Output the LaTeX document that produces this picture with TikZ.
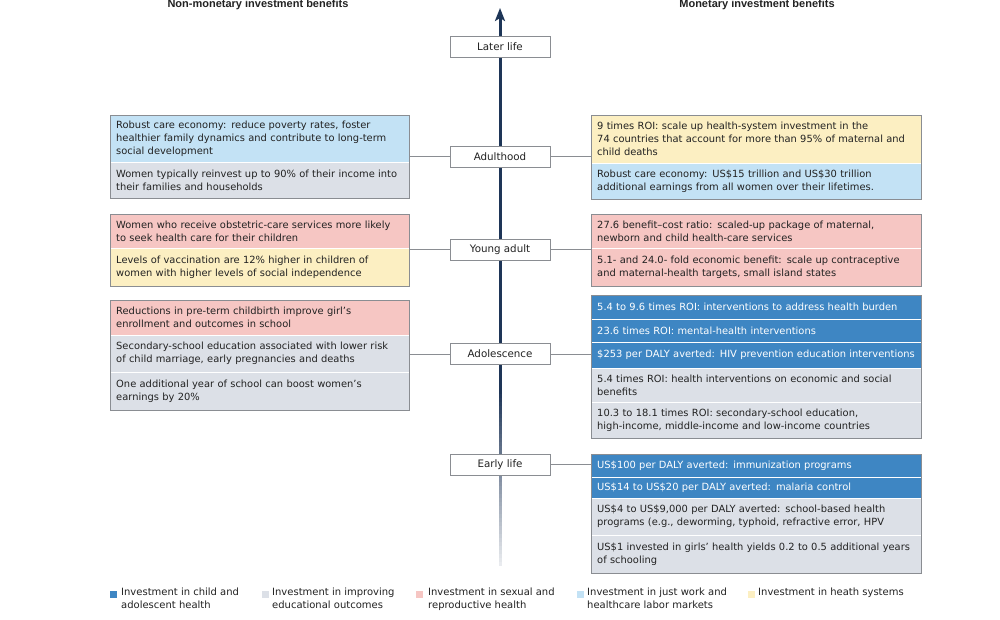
\documentclass[tikz,border=0pt]{standalone}
\usepackage{fontspec}
\setmainfont{DejaVu Sans}
\newfontfamily\headfont{Liberation Sans}
\usetikzlibrary{arrows.meta}
\definecolor{navy}{HTML}{1E3557}
\definecolor{cblue}{HTML}{3E86C3}
\definecolor{cgray}{HTML}{DCE0E7}
\definecolor{cpink}{HTML}{F6C6C3}
\definecolor{cyel}{HTML}{FCEFC2}
\definecolor{clblue}{HTML}{C3E2F5}
\definecolor{bord}{HTML}{8A8D92}
\definecolor{txt}{HTML}{222222}
\tikzset{
  sect/.style={rectangle, anchor=north west, inner xsep=6pt, inner ysep=0pt, align=left,
    font=\fontsize{9.9}{13}\selectfont, text=txt},
  stagebox/.style={rectangle, draw=bord, fill=white, line width=0.7pt, minimum width=100pt,
    minimum height=21pt, font=\fontsize{10.3}{12}\selectfont, text=txt, inner sep=0pt},
  conn/.style={draw=bord, line width=0.7pt},
  divider/.style={draw=white, line width=1.6pt},
  frame/.style={draw=bord, line width=0.7pt},
  header/.style={font=\headfont\bfseries\fontsize{11}{12}\selectfont, text=txt},
  keybox/.style={rectangle, minimum size=7pt, inner sep=0pt},
  keytext/.style={anchor=north west, align=left, inner sep=0pt, font=\fontsize{10}{13}\selectfont, text=txt},
  bl/.style={fill=cblue, text=white},
  gr/.style={fill=cgray},
  pk/.style={fill=cpink},
  ye/.style={fill=cyel},
  lb/.style={fill=clblue}
}
% name, x, ytop, width, height, textwidth, style, text
\newcommand\sct[8]{\node[sect, #7, minimum width=#4pt, minimum height=#5pt, text width=#6pt] (#1) at (#2,#3) {#8};}
\begin{document}
\begin{tikzpicture}[x=1pt,y=-1pt]
\useasboundingbox (0,0) rectangle (1000,619);
\fill[white] (0,0) rectangle (1000,619);

% headers
\node[header] (hl) at (258,5) {Non-monetary investment benefits};
\node[header] (hr) at (757,5) {Monetary investment benefits};

% timeline arrow
\coordinate (atop) at (500,8);
\coordinate (amid) at (500,392);
\foreach \i in {0,...,43} {
  \pgfmathsetmacro\ya{390+\i*4}
  \pgfmathsetmacro\yb{\ya+4.4}
  \pgfmathsetmacro\pc{100-\i*2.1}
  \fill[navy!\pc!white] (498.5,\ya) rectangle (501.5,\yb);
}
\draw[navy, line width=3pt, -{Stealth[length=13pt,width=10pt,inset=3pt]}] (amid) -- (atop);

% stages
\node[stagebox] (later) at (500,46.5) {Later life};
\node[stagebox] (adult) at (500,156.5) {Adulthood};
\node[stagebox] (young) at (500,249.5) {Young adult};
\node[stagebox] (adol) at (500,354) {Adolescence};
\node[stagebox] (early) at (500,464.5) {Early life};

% ---- left panels ----
\sct{la1}{110}{115}{299}{47}{287}{lb}{Robust care economy: reduce poverty rates, foster\\healthier family dynamics and contribute to long-term\\social development}
\sct{la2}{110}{162}{299}{36}{287}{gr}{Women typically reinvest up to 90\% of their income into\\their families and households}
\draw[divider] (la1.south west) -- (la1.south east);
\draw[frame] (la1.north west) rectangle (la2.south east);

\sct{ly1}{110}{214}{299}{34}{287}{pk}{Women who receive obstetric-care services more likely\\to seek health care for their children}
\sct{ly2}{110}{248}{299}{38}{287}{ye}{Levels of vaccination are 12\% higher in children of\\women with higher levels of social independence}
\draw[divider] (ly1.south west) -- (ly1.south east);
\draw[frame] (ly1.north west) rectangle (ly2.south east);

\sct{lo1}{110}{300}{299}{35}{287}{pk}{Reductions in pre-term childbirth improve girl’s\\enrollment and outcomes in school}
\sct{lo2}{110}{335}{299}{37}{287}{gr}{Secondary-school education associated with lower risk\\of child marriage, early pregnancies and deaths}
\sct{lo3}{110}{372}{299}{38}{287}{gr}{One additional year of school can boost women’s\\earnings by 20\%}
\draw[divider] (lo1.south west) -- (lo1.south east);
\draw[divider] (lo2.south west) -- (lo2.south east);
\draw[frame] (lo1.north west) rectangle (lo3.south east);

% ---- right panels ----
\sct{ra1}{591}{115}{330}{48}{318}{ye}{9 times ROI: scale up health-system investment in the\\74 countries that account for more than 95\% of maternal and\\child deaths}
\sct{ra2}{591}{163}{330}{36}{318}{lb}{Robust care economy: US\$15 trillion and US\$30 trillion\\additional earnings from all women over their lifetimes.}
\draw[divider] (ra1.south west) -- (ra1.south east);
\draw[frame] (ra1.north west) rectangle (ra2.south east);

\sct{ry1}{591}{214}{330}{34}{318}{pk}{27.6 benefit–cost ratio: scaled-up package of maternal,\\newborn and child health-care services}
\sct{ry2}{591}{248}{330}{38}{318}{pk}{5.1- and 24.0- fold economic benefit: scale up contraceptive\\and maternal-health targets, small island states}
\draw[divider] (ry1.south west) -- (ry1.south east);
\draw[frame] (ry1.north west) rectangle (ry2.south east);

\sct{ro1}{591}{295}{330}{24}{318}{bl}{5.4 to 9.6 times ROI: interventions to address health burden}
\sct{ro2}{591}{319}{330}{23}{318}{bl}{23.6 times ROI: mental-health interventions}
\sct{ro3}{591}{342}{330}{26}{318}{bl}{\$253 per DALY averted: HIV prevention education interventions}
\sct{ro4}{591}{368}{330}{34}{318}{gr}{5.4 times ROI: health interventions on economic and social\\benefits}
\sct{ro5}{591}{402}{330}{36}{318}{gr}{10.3 to 18.1 times ROI: secondary-school education,\\high-income, middle-income and low-income countries}
\foreach \n in {ro1,ro2,ro3,ro4} {\draw[divider] (\n.south west) -- (\n.south east);}
\draw[frame] (ro1.north west) rectangle (ro5.south east);

\sct{re1}{591}{454}{330}{23}{318}{bl}{US\$100 per DALY averted: immunization programs}
\sct{re2}{591}{477}{330}{21}{318}{bl}{US\$14 to US\$20 per DALY averted: malaria control}
\sct{re3}{591}{498}{330}{37}{318}{gr}{US\$4 to US\$9,000 per DALY averted: school-based health\\programs (e.g., deworming, typhoid, refractive error, HPV}
\sct{re4}{591}{535}{330}{38}{318}{gr}{US\$1 invested in girls’ health yields 0.2 to 0.5 additional years\\of schooling}
\foreach \n in {re1,re2,re3} {\draw[divider] (\n.south west) -- (\n.south east);}
\draw[frame] (re1.north west) rectangle (re4.south east);

% ---- connectors ----
\draw[conn] (adult.west) -- (adult.west -| la1.east);
\draw[conn] (adult.east) -- (adult.east -| ra1.west);
\draw[conn] (young.west) -- (young.west -| ly1.east);
\draw[conn] (young.east) -- (young.east -| ry1.west);
\draw[conn] (adol.west) -- (adol.west -| lo1.east);
\draw[conn] (adol.east) -- (adol.east -| ro1.west);
\draw[conn] (early.east) -- (early.east -| re1.west);

% ---- legend ----
\node[keybox, fill=cblue] (k1) at (113.5,594.5) {};
\node[keytext] (t1) at (121,588) {Investment in child and\\adolescent health};
\node[keybox, fill=cgray] (k2) at (265.5,594.5) {};
\node[keytext] (t2) at (272,588) {Investment in improving\\educational outcomes};
\node[keybox, fill=cpink] (k3) at (419.5,594.5) {};
\node[keytext] (t3) at (428,588) {Investment in sexual and\\reproductive health};
\node[keybox, fill=clblue] (k4) at (580.5,594.5) {};
\node[keytext] (t4) at (587,588) {Investment in just work and\\healthcare labor markets};
\node[keybox, fill=cyel] (k5) at (751.5,594.5) {};
\node[keytext] (t5) at (758,588) {Investment in heath systems};
\end{tikzpicture}
\end{document}
